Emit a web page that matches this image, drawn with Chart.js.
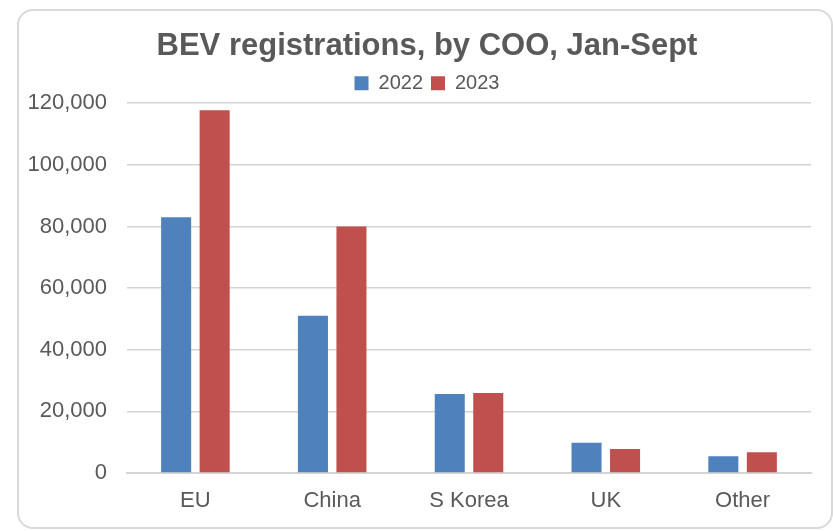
<!DOCTYPE html>
<html>
<head>
<meta charset="utf-8">
<script src="https://cdn.jsdelivr.net/npm/chart.js@4.4.0/dist/chart.umd.min.js"></script>
<style>
  html, body { margin: 0; padding: 0; background: #ffffff; }
  #wrap { position: relative; width: 833px; height: 531px; overflow: hidden; background: #fff; }
  #frame { position: absolute; left: 17px; top: 9px; width: 812px; height: 516px; border: 2px solid #d9d9d9; border-radius: 16px; pointer-events: none; }
  canvas { position: absolute; left: 0; top: 0; }
</style>
</head>
<body>
<div id="wrap">
  <canvas id="c" width="833" height="531"></canvas>
  <div id="frame"></div>
</div>
<script>
const categories = ["EU", "China", "S Korea", "UK", "Other"];
const seriesNames = ["2022", "2023"];
const values2022 = [83000, 51000, 25600, 9800, 5400];
const values2023 = [117700, 80000, 26000, 7800, 6700];
const yTicks = [0, 20000, 40000, 60000, 80000, 100000, 120000];

const gray = "#595959";
const font = "'Liberation Sans', Arial, sans-serif";

// widen the y-axis label area to the left so its labels are not clipped
const widenYLabelArea = {
  id: "widenYLabelArea",
  afterLayout(chart) {
    const y = chart.scales.y;
    y.left = 0;
    y.width = y.right - y.left;
  }
};

new Chart(document.getElementById("c"), {
  type: "bar",
  data: {
    labels: categories,
    datasets: [
      { label: seriesNames[0], data: values2022, backgroundColor: "#4f81bd", barPercentage: 0.78, categoryPercentage: 0.563 },
      { label: seriesNames[1], data: values2023, backgroundColor: "#c0504d", barPercentage: 0.78, categoryPercentage: 0.563 }
    ]
  },
  plugins: [widenYLabelArea],
  options: {
    responsive: false,
    animation: false,
    layout: { padding: { left: 43, right: 22, top: 10, bottom: 13 } },
    plugins: {
      title: {
        display: true,
        text: "BEV registrations, by COO, Jan-Sept",
        color: gray,
        font: { family: font, size: 31, weight: "bold" },
        padding: { top: 18, bottom: 0 }
      },
      legend: {
        display: true,
        position: "top",
        labels: {
          color: gray,
          font: { family: font, size: 20 },
          boxWidth: 14,
          boxHeight: 14,
          padding: 8
        }
      },
      tooltip: { enabled: false }
    },
    scales: {
      x: {
        grid: { display: false, drawTicks: false },
        border: { display: true, color: "#d4d4d4", width: 2 },
        ticks: { color: gray, font: { family: font, size: 22 }, padding: 15 },
        afterFit: (s) => { s.height = 45; }
      },
      y: {
        min: 0,
        max: 120000,
        afterBuildTicks: (s) => { s.ticks = yTicks.map(v => ({ value: v })); },
        grid: { color: "#d4d4d4", lineWidth: 1.5, drawTicks: false },
        border: { display: false },
        ticks: {
          color: gray,
          font: { family: font, size: 22 },
          padding: 20,
          callback: (v) => v.toLocaleString("en-US")
        },
        afterFit: (s) => { s.width = 84; }
      }
    }
  }
});
</script>
</body>
</html>
